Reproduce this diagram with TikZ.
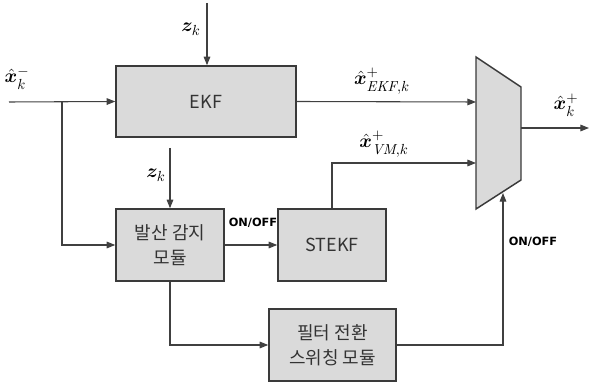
\documentclass[tikz,border=0pt]{standalone}
\usepackage{fontspec}
\usepackage{amsmath,bm}
\usetikzlibrary{arrows.meta}
\newfontfamily\krfont{Noto Sans CJK KR}
\newfontfamily\onoff{DejaVu Sans}
\definecolor{boxfill}{HTML}{DADADA}
\definecolor{boxline}{HTML}{3A3A3A}
\definecolor{wire}{HTML}{404040}
\tikzset{
  blk/.style={draw=boxline, line width=1.1pt, fill=boxfill, inner sep=0pt, align=center, font=\krfont\fontsize{13.5}{19}\selectfont, text=black!80},
  wirearrow/.style={draw=wire, line width=0.8pt, -{Triangle[length=6.5pt,width=5pt]}},
  mlabel/.style={inner sep=0pt, font=\fontsize{15.5}{17}\selectfont},
  swlabel/.style={inner sep=0pt, font=\onoff\bfseries\fontsize{8.5}{10}\selectfont}
}
\begin{document}
\begin{tikzpicture}[x=0.75pt,y=-0.75pt]
\useasboundingbox (0,0) rectangle (590,384);
% blocks
\node[blk, minimum width=180*0.75pt, minimum height=71*0.75pt] (ekf) at (206,101.5) {EKF};
\node[blk, minimum width=108*0.75pt, minimum height=72*0.75pt] (det) at (170,245) {발산 감지\\모듈};
\node[blk, minimum width=108*0.75pt, minimum height=72*0.75pt] (stekf) at (332,245) {STEKF};
\node[blk, minimum width=127*0.75pt, minimum height=72*0.75pt] (sw) at (332.5,345) {필터 전환\\스위칭 모듈};
% multiplexer
\coordinate (m1) at (476,57);
\coordinate (m2) at (521,87);
\coordinate (m3) at (521,180);
\coordinate (m4) at (476,209);
\draw[draw=boxline, line width=1.1pt, fill=boxfill] (m1) -- (m2) -- (m3) -- (m4) -- cycle;
% coordinates
\coordinate (in) at (9,102);
\coordinate (br) at (62,102);
\coordinate (zt) at (207,3);
\coordinate (z2) at (170,148);
\coordinate (ein) at (476,102);
\coordinate (vin) at (476,163);
\coordinate (swin) at (503,193);
\coordinate (mout) at (521,128);
\coordinate (out) at (589,128);
% connectors
\draw[wirearrow] (in) -- (ekf.west);
\draw[wirearrow] (br) |- (det.west);
\draw[wirearrow] (zt) -- (zt |- ekf.north);
\draw[wirearrow] (z2) -- (det.north);
\draw[wirearrow] (ekf.east) -- (ein);
\draw[wirearrow] (stekf.north) |- (vin);
\draw[wirearrow] (det.east) -- (stekf.west);
\draw[wirearrow] (det.south) |- (sw.west);
\draw[wirearrow] (sw.east) -| (swin);
\draw[wirearrow] (mout) -- (out);
% labels
\node[mlabel] (lxm) at (17,78) {$\hat{\bm{x}}_k^{-}$};
\node[mlabel] (lz1) at (191,29) {$\bm{z}_k$};
\node[mlabel] (lz2) at (156,175) {$\bm{z}_k$};
\node[mlabel] (lekf) at (382,81) {$\hat{\bm{x}}^{+}_{\mathit{EKF},k}$};
\node[mlabel] (lvm) at (384,144) {$\hat{\bm{x}}^{+}_{\mathit{VM},k}$};
\node[mlabel] (lout) at (566,105) {$\hat{\bm{x}}_k^{+}$};
\node[swlabel] (lon1) at (253,223) {ON/OFF};
\node[swlabel] (lon2) at (533,242) {ON/OFF};
\end{tikzpicture}
\end{document}
